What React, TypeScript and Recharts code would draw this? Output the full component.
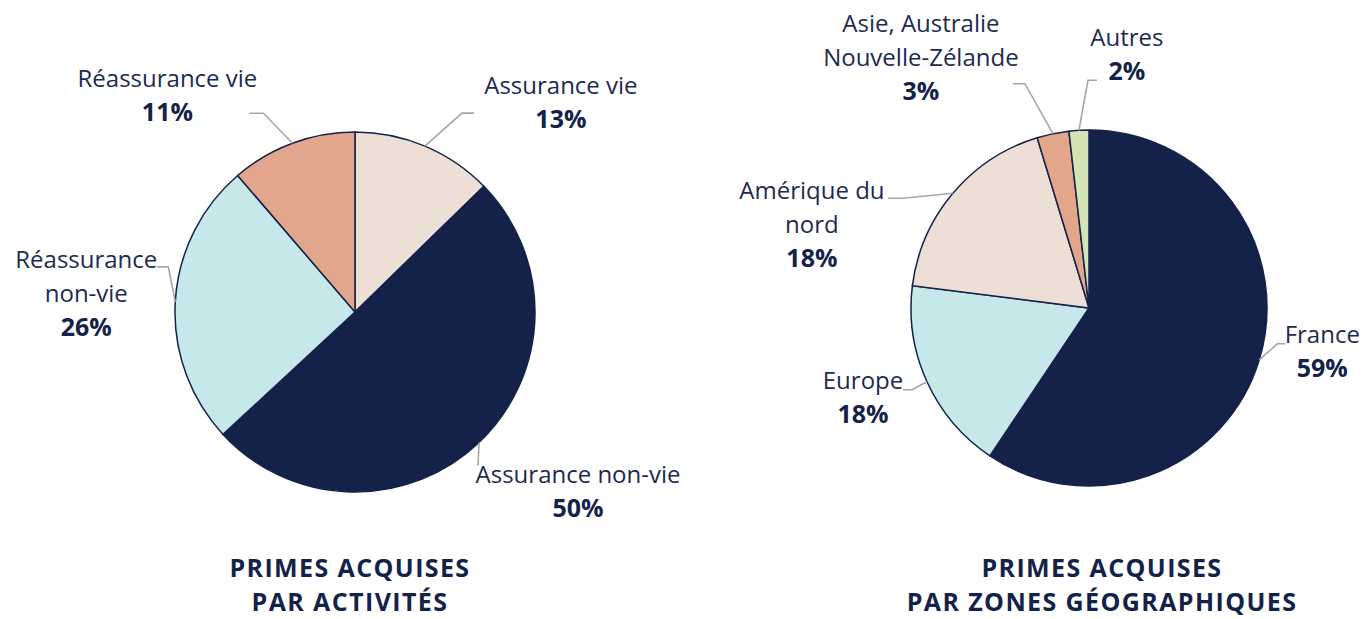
import React from 'react';
import { PieChart, Pie, Cell } from 'recharts';

// ---- data ----
const activityNames = ['Assurance vie', 'Assurance non-vie', 'Réassurance non-vie', 'Réassurance vie'];
const activityValues = [12.7, 50.4, 25.6, 11.3];
const activityLabelLines = [['Assurance vie'], ['Assurance non-vie'], ['Réassurance', 'non-vie'], ['Réassurance vie']];

const zoneNames = ['France', 'Europe', 'Amérique du nord', 'Asie, Australie Nouvelle-Zélande', 'Autres'];
const zoneValues = [59.4, 17.6, 18.3, 2.9, 1.8];
const zoneLabelLines = [['France'], ['Europe'], ['Amérique du', 'nord'], ['Asie, Australie', 'Nouvelle-Zélande'], ['Autres']];

const titleActivity = ['PRIMES ACQUISES', 'PAR ACTIVITÉS'];
const titleZone = ['PRIMES ACQUISES', 'PAR ZONES GÉOGRAPHIQUES'];

// ---- styles / layout ----
const NAVY = '#14224A';
const TEXT = '#1E2A50';
const LEADER = '#A6A6A6';
const activityColors = ['#EEDFD6', NAVY, '#C7E8EB', '#E2A68C'];
const zoneColors = [NAVY, '#C7E8EB', '#EEDFD6', '#E2A68C', '#D3E5B5'];

const FONT = '"Open Sans", "Noto Sans", sans-serif';
const LABEL_SIZE = 24;
const PCT_SIZE = 25;
const LINE_H = 34;
const TITLE_SIZE = 25;

// leader & label offsets relative to the slice's mid point on the outer edge
type LabelLayout = { elbow: [number, number]; tail: number; text: [number, number] };
const activityLayout: LabelLayout[] = [
  { elbow: [37, -33], tail: 12, text: [136, -52] },
  { elbow: [-1, 23], tail: 0, text: [99, 41] },
  { elbow: [-7, -35], tail: -11, text: [-89, -34] },
  { elbow: [-29, -30], tail: -14, text: [-125, -56] },
];
const zoneLayout: LabelLayout[] = [
  { elbow: [18, -16], tail: 8, text: [63, -17] },
  { elbow: [-15, 8], tail: -9, text: [-64, 7] },
  { elbow: [-50, 5], tail: -15, text: [-141, 6] },
  { elbow: [-28, -50], tail: -12, text: [-132, -102] },
  { elbow: [9, -50], tail: 9, text: [48, -84] },
];

const activityData = activityNames.map((name, i) => ({ name, value: activityValues[i] }));
const zoneData = zoneNames.map((name, i) => ({ name, value: zoneValues[i] }));

const RAD = Math.PI / 180;

function makeLabel(layout: LabelLayout[], lines: string[][]) {
  return (props: any) => {
    const { cx, cy, midAngle, outerRadius, index, value } = props;
    const sx = cx + outerRadius * Math.cos(-midAngle * RAD);
    const sy = cy + outerRadius * Math.sin(-midAngle * RAD);
    const l = layout[index];
    const ex = sx + l.elbow[0];
    const ey = sy + l.elbow[1];
    const tx = ex + l.tail;
    const x = sx + l.text[0];
    const y0 = sy + l.text[1];
    const ls = lines[index];
    return (
      <g key={`lab-${index}`}>
        <polyline
          points={`${sx},${sy} ${ex},${ey} ${tx},${ey}`}
          fill="none"
          stroke={LEADER}
          strokeWidth={1.6}
        />
        {ls.map((t, k) => (
          <text
            key={k}
            x={x}
            y={y0 + k * LINE_H}
            textAnchor="middle"
            fontFamily={FONT}
            fontSize={LABEL_SIZE}
            fill={TEXT}
          >
            {t}
          </text>
        ))}
        <text
          x={x}
          y={y0 + ls.length * LINE_H}
          textAnchor="middle"
          fontFamily={FONT}
          fontSize={PCT_SIZE}
          fontWeight={700}
          fill={NAVY}
        >
          {`${Math.round(value)}%`}
        </text>
      </g>
    );
  };
}

const W = 1364;
const H = 619;

export default function App() {
  return (
    <div style={{ position: 'absolute', left: 0, top: 0, width: W, height: H, background: '#fff', overflow: 'hidden' }}>
      <PieChart width={W} height={H} margin={{ top: 0, right: 0, bottom: 0, left: 0 }}>
        <Pie
          data={activityData}
          dataKey="value"
          nameKey="name"
          cx={355}
          cy={312}
          outerRadius={180}
          startAngle={90}
          endAngle={-270}
          stroke={NAVY}
          strokeWidth={1.5}
          isAnimationActive={false}
          labelLine={false}
          label={makeLabel(activityLayout, activityLabelLines)}
        >
          {activityData.map((d, i) => (
            <Cell key={d.name} fill={activityColors[i]} />
          ))}
        </Pie>
        <Pie
          data={zoneData}
          dataKey="value"
          nameKey="name"
          cx={1089}
          cy={308}
          outerRadius={178}
          startAngle={90}
          endAngle={-270}
          stroke={NAVY}
          strokeWidth={1.5}
          isAnimationActive={false}
          labelLine={false}
          label={makeLabel(zoneLayout, zoneLabelLines)}
        >
          {zoneData.map((d, i) => (
            <Cell key={d.name} fill={zoneColors[i]} />
          ))}
        </Pie>
      </PieChart>
      <svg width={W} height={H} style={{ position: 'absolute', left: 0, top: 0, pointerEvents: 'none' }}>
        {titleActivity.map((t, k) => (
          <text key={`ta${k}`} x={350} y={577 + k * 34} textAnchor="middle" fontFamily={FONT} fontSize={TITLE_SIZE} fontWeight={700} letterSpacing={1.4} fill={NAVY}>
            {t}
          </text>
        ))}
        {titleZone.map((t, k) => (
          <text key={`tz${k}`} x={1102} y={577 + k * 34} textAnchor="middle" fontFamily={FONT} fontSize={TITLE_SIZE} fontWeight={700} letterSpacing={1.4} fill={NAVY}>
            {t}
          </text>
        ))}
      </svg>
    </div>
  );
}
